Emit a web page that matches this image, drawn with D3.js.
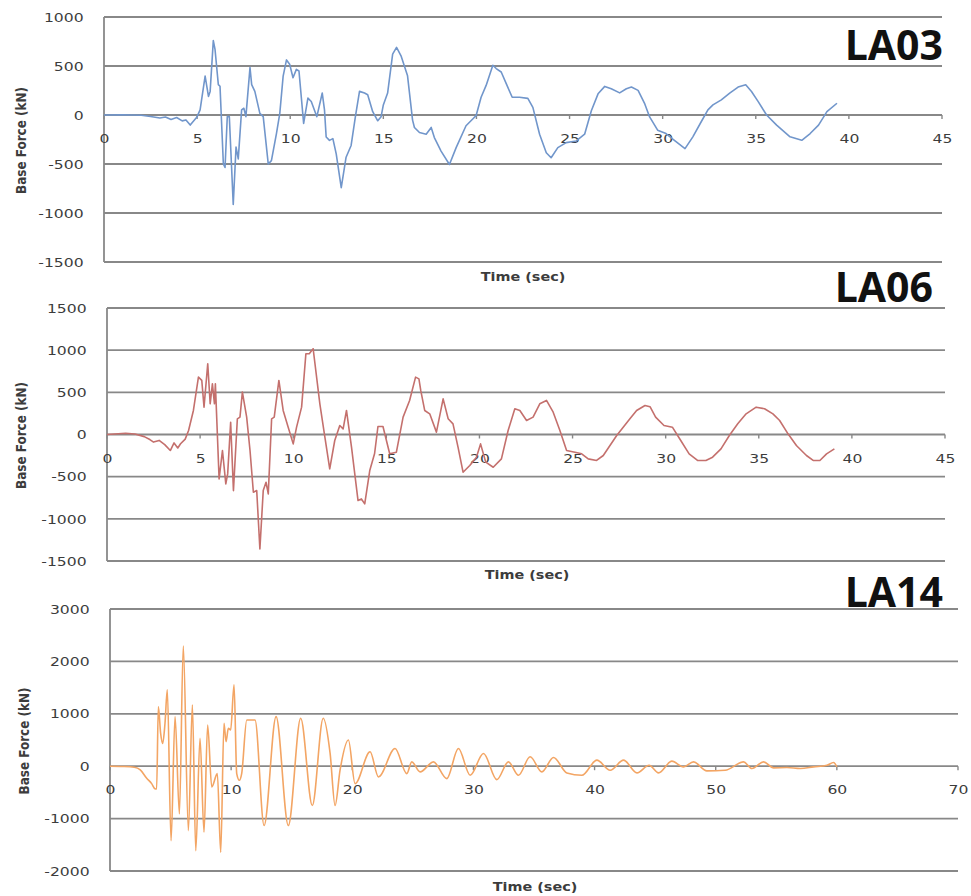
<!DOCTYPE html>
<html>
<head>
<meta charset="utf-8">
<script src="https://cdn.jsdelivr.net/npm/d3@7"></script>
<style>
  body { margin: 0; background: #fff; }
  svg { display: block; }
  text { font-family: "DejaVu Sans", sans-serif; }
</style>
</head>
<body>
<svg id="chart" width="971" height="896"></svg>
<script>
// Base force time histories, [time (sec), force (kN)]
const la03 = [[0,0],[1,3],[2,-3],[2.5,-15],[3,-30],[3.3,-20],[3.6,-45],[3.9,-25],[4.2,-60],[4.4,-50],[4.63,-103],[4.98,-24],[5.16,52],[5.43,397],[5.61,190],[5.7,241],[5.87,759],[5.96,673],[6.14,310],[6.23,293],[6.41,-500],[6.5,-535],[6.62,-17],[6.73,-17],[6.94,-914],[7.09,-328],[7.21,-448],[7.39,52],[7.51,69],[7.62,-17],[7.84,483],[7.93,310],[8.1,241],[8.37,17],[8.55,-17],[8.82,-500],[8.99,-466],[9.26,-190],[9.44,17],[9.62,397],[9.8,562],[9.97,518],[10.15,380],[10.33,466],[10.47,449],[10.72,-86],[10.95,172],[11.13,138],[11.43,-17],[11.72,224],[11.84,52],[11.93,-224],[12.11,-259],[12.29,-241],[12.47,-397],[12.74,-742],[13.0,-431],[13.27,-311],[13.5,-17],[13.72,241],[13.99,224],[14.16,207],[14.43,34],[14.7,-59],[14.88,-17],[15.0,103],[15.23,224],[15.5,621],[15.71,690],[15.95,604],[16.3,400],[16.57,-52],[16.67,-127],[16.94,-179],[17.3,-196],[17.57,-127],[17.74,-230],[18.1,-368],[18.55,-505],[18.91,-333],[19.44,-110],[19.8,-41],[19.98,-7],[20.25,181],[20.52,302],[20.88,508],[21.06,474],[21.33,439],[21.6,320],[21.92,181],[22.31,181],[22.76,170],[23.03,78],[23.39,-196],[23.75,-385],[24.01,-436],[24.37,-333],[24.82,-282],[25.36,-265],[25.81,-196],[26.17,44],[26.53,216],[26.89,292],[27.24,268],[27.69,226],[28.05,268],[28.32,285],[28.68,251],[29.04,113],[29.3,-20],[29.73,-155],[30.18,-189],[30.63,-258],[31.2,-343],[31.62,-223],[32.07,-69],[32.43,52],[32.7,103],[33.15,155],[33.6,223],[34.05,285],[34.46,309],[34.77,240],[35.13,137],[35.58,0],[36.12,-103],[36.84,-223],[37.47,-258],[37.92,-189],[38.37,-103],[38.82,34],[39.36,120]];

const la06 = [[0,0],[1,15],[1.5,5],[2,-25],[2.3,-60],[2.5,-90],[2.8,-70],[3.1,-120],[3.4,-190],[3.6,-100],[3.8,-160],[3.95,-110],[4.2,-55],[4.38,47],[4.64,285],[4.91,680],[5.09,641],[5.21,324],[5.41,839],[5.54,364],[5.66,601],[5.77,364],[5.82,601],[6.02,-526],[6.2,-190],[6.38,-585],[6.48,-467],[6.64,146],[6.79,-665],[7.0,186],[7.14,206],[7.27,502],[7.5,206],[7.68,-190],[7.86,-685],[8.04,-665],[8.21,-1357],[8.39,-665],[8.54,-566],[8.66,-704],[8.84,186],[8.98,206],[9.23,641],[9.46,285],[9.73,87],[10.0,-111],[10.18,87],[10.45,324],[10.68,957],[10.86,957],[11.07,1017],[11.43,364],[11.7,-32],[11.96,-407],[12.23,-71],[12.5,107],[12.68,67],[12.86,285],[13.13,-150],[13.48,-783],[13.66,-764],[13.84,-823],[14.11,-427],[14.37,-225],[14.55,95],[14.82,95],[15.18,-229],[15.54,-210],[15.9,206],[16.25,404],[16.57,680],[16.75,660],[16.85,520],[17.06,285],[17.33,245],[17.69,28],[18.05,423],[18.32,186],[18.58,126],[18.85,-150],[19.12,-447],[19.48,-368],[19.84,-269],[20.06,-111],[20.34,-328],[20.74,-388],[21.18,-289],[21.54,47],[21.9,305],[22.17,285],[22.53,166],[22.88,206],[23.24,364],[23.6,404],[23.96,265],[24.32,47],[24.68,-190],[25.13,-210],[25.49,-229],[25.84,-289],[26.29,-308],[26.65,-249],[27.01,-130],[27.37,-12],[27.72,87],[28.08,186],[28.44,285],[28.89,344],[29.16,330],[29.46,206],[29.91,107],[30.36,87],[30.81,-71],[31.26,-229],[31.71,-308],[32.16,-308],[32.52,-269],[32.97,-170],[33.42,-12],[33.87,127],[34.32,245],[34.86,324],[35.31,305],[35.76,245],[36.12,166],[36.57,8],[37.02,-130],[37.56,-249],[37.92,-308],[38.28,-308],[38.64,-229],[39.06,-170]];

const la14 = [[0,0],[1,-5],[2,-20],[2.5,-70],[3.03,-230],[3.44,-333],[3.71,-430],[3.85,-435],[3.99,1139],[4.18,627],[4.35,435],[4.54,819],[4.73,1459],[5.04,-1421],[5.37,947],[5.73,-909],[6.05,2291],[6.47,-1229],[6.8,1171],[7.08,-1613],[7.43,531],[7.76,-1261],[8.06,787],[8.4,-397],[8.86,-141],[9.14,-1645],[9.41,819],[9.58,467],[9.77,723],[9.96,691],[10.24,1555],[10.46,-141],[10.68,-269],[10.87,-141],[11.29,883],[11.97,883],[12.72,-1133],[13.71,947],[14.72,-1133],[15.74,915],[16.7,-749],[17.6,915],[18.17,243],[18.58,-749],[18.99,-77],[19.68,499],[20.23,-333],[21.47,275],[22.16,-205],[23.53,339],[24.5,-141],[24.91,83],[25.6,-109],[26.7,83],[27.8,-237],[28.76,339],[29.73,-173],[30.83,243],[31.93,-256],[32.89,83],[33.72,-173],[34.68,179],[35.65,-109],[36.61,166],[37.71,-128],[38.95,-173],[40.19,115],[41.29,-77],[42.39,115],[43.5,-128],[44.5,19],[45.28,-128],[46.38,96],[47.34,-13],[48.17,83],[49.27,-90],[50.78,-77],[52.3,83],[52.99,-45],[53.95,83],[54.78,-32],[55.88,-26],[56.98,-45],[58.08,-13],[59.18,19],[59.73,70],[60,-13]];

// Tick labels
const la03ForceTicks = [-1500, -1000, -500, 0, 500, 1000];
const la06ForceTicks = [-1500, -1000, -500, 0, 500, 1000, 1500];
const la14ForceTicks = [-2000, -1000, 0, 1000, 2000, 3000];
const time45Ticks = [0, 5, 10, 15, 20, 25, 30, 35, 40, 45];
const time70Ticks = [0, 10, 20, 30, 40, 50, 60, 70];

// layout for each of the three stacked panels
const panels = [
  { name: "LA03", data: la03, yTicks: la03ForceTicks, xTicks: time45Ticks,
    color: "#7196cb", left: 104, right: 942, top: 17, bottom: 262,
    titleX: 943, titleY: 60, xLabelX: 523, xLabelY: 281, yLabelX: 22, curve: d3.curveLinear },
  { name: "LA06", data: la06, yTicks: la06ForceTicks, xTicks: time45Ticks,
    color: "#c4706d", left: 107, right: 945, top: 308, bottom: 561,
    titleX: 933, titleY: 302, xLabelX: 527, xLabelY: 579, yLabelX: 22, curve: d3.curveLinear },
  { name: "LA14", data: la14, yTicks: la14ForceTicks, xTicks: time70Ticks,
    color: "#f3a564", left: 110, right: 958, top: 609, bottom: 871,
    titleX: 943, titleY: 607, xLabelX: 535, xLabelY: 891, yLabelX: 25, curve: d3.curveMonotoneX }
];

const svg = d3.select("#chart");
const gridColor = "#888888";
const textColor = "#3c3c3c";
const plain = d => String(d);   // no thousands separator, ascii minus

panels.forEach(p => {
  const x = d3.scaleLinear()
    .domain([0, d3.max(p.xTicks)])
    .range([p.left, p.right]);
  const y = d3.scaleLinear()
    .domain(d3.extent(p.yTicks))
    .range([p.bottom, p.top]);

  const g = svg.append("g");

  // horizontal gridlines
  g.selectAll("line.grid")
    .data(p.yTicks)
    .join("line")
      .attr("class", "grid")
      .attr("x1", p.left)
      .attr("x2", p.right)
      .attr("y1", d => y(d))
      .attr("y2", d => y(d))
      .attr("stroke", gridColor)
      .attr("stroke-width", 1.8);

  // left axis line
  g.append("line")
    .attr("x1", p.left).attr("x2", p.left)
    .attr("y1", y.range()[0]).attr("y2", y.range()[1])
    .attr("stroke", gridColor)
    .attr("stroke-width", 1.8);

  // small tick marks under the zero line
  g.selectAll("line.mark")
    .data(p.xTicks)
    .join("line")
      .attr("class", "mark")
      .attr("x1", d => x(d)).attr("x2", d => x(d))
      .attr("y1", y(0)).attr("y2", y(0) + 4)
      .attr("stroke", gridColor)
      .attr("stroke-width", 1.4);

  // y tick labels
  const yAxis = g.append("g")
    .attr("transform", `translate(${p.left},0)`)
    .call(d3.axisLeft(y)
      .tickValues(p.yTicks)
      .tickFormat(plain)
      .tickSize(0)
      .tickPadding(17));
  yAxis.select(".domain").remove();
  yAxis.selectAll(".tick line").remove();
  yAxis.selectAll(".tick text")
    .attr("fill", textColor)
    .style("font-size", "13px")
    .style("font-family", "DejaVu Sans")
    .attr("transform", "scale(1.2,1)");

  // x tick labels under the zero line
  const xAxis = g.append("g")
    .attr("transform", `translate(0,${y(0)})`)
    .call(d3.axisBottom(x)
      .tickValues(p.xTicks)
      .tickFormat(plain)
      .tickSize(4)
      .tickSizeOuter(0)
      .tickPadding(15));
  xAxis.select(".domain").remove();
  xAxis.selectAll(".tick line").remove();
  xAxis.selectAll(".tick text")
    .attr("fill", textColor)
    .style("font-size", "13px")
    .style("font-family", "DejaVu Sans")
    .attr("transform", "scale(1.2,1)");

  // series
  const line = d3.line()
    .x(d => x(d[0]))
    .y(d => y(d[1]))
    .curve(p.curve);
  g.append("path")
    .datum(p.data)
    .attr("fill", "none")
    .attr("stroke", p.color)
    .attr("stroke-width", 1.6)
    .attr("stroke-linejoin", "round")
    .attr("d", line);

  // axis titles
  g.append("text")
    .attr("transform", `translate(${p.xLabelX},${p.xLabelY}) scale(1.2,1)`)
    .attr("text-anchor", "middle")
    .attr("fill", textColor)
    .style("font-size", "12px")
    .style("font-weight", "bold")
    .text("Time (sec)");

  const midY = (p.top + p.bottom) / 2 + 1;
  g.append("text")
    .attr("transform", `translate(${p.yLabelX + 4},${midY}) scale(1.2,1) rotate(-90)`)
    .attr("text-anchor", "middle")
    .attr("fill", textColor)
    .style("font-size", "12px")
    .style("font-weight", "bold")
    .text("Base Force (kN)");

  // record name
  g.append("text")
    .attr("x", p.titleX)
    .attr("y", p.titleY)
    .attr("text-anchor", "end")
    .attr("fill", "#111")
    .style("font-family", "'Open Sans', sans-serif")
    .style("font-size", "41px")
    .style("font-weight", "bold")
    .text(p.name);
});
</script>
</body>
</html>
